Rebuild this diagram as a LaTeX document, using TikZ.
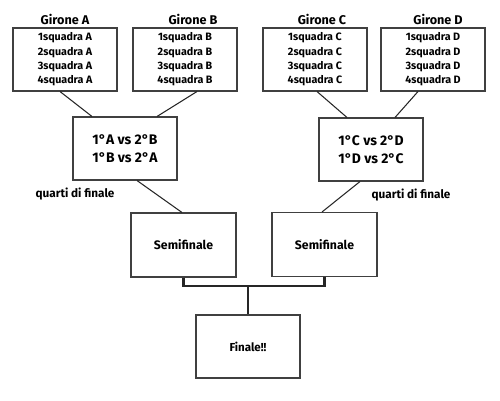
\documentclass[tikz,border=0pt]{standalone}
\usepackage{fontspec}
\setmainfont{Fira Sans}
\begin{document}
\begin{tikzpicture}[x=0.02cm, y=-0.02cm,
  box/.style={draw=black!75, line width=0.6pt, minimum width=2.08cm, minimum height=1.26cm, inner sep=0pt, align=center},
  team/.style={font=\bfseries\fontsize{6.1}{8.2}\selectfont},
  match/.style={font=\bfseries\fontsize{7.9}{10.2}\selectfont},
  title/.style={font=\bfseries\fontsize{7.2}{8}\selectfont},
  stage/.style={font=\bfseries\fontsize{7}{8}\selectfont},
  link/.style={draw=black!85, line width=0.6pt}]
 \useasboundingbox (0,0) rectangle (500,400);
 \node[title] (tA) at (65,19) {Girone A};
 \node[title] (tB) at (193,19) {Girone B};
 \node[title] (tC) at (322,19) {Girone C};
 \node[title] (tD) at (438,19) {Girone D};
 \node[box, team] (gA) at (65,59.5) {1squadra A\\2squadra A\\3squadra A\\4squadra A};
 \node[box, team] (gB) at (185,59.5) {1squadra B\\2squadra B\\3squadra B\\4squadra B};
 \node[box, team] (gC) at (315,59.5) {1squadra C\\2squadra C\\3squadra C\\4squadra C};
 \node[box, team] (gD) at (433,59.5) {1squadra D\\2squadra D\\3squadra D\\4squadra D};
 \node[box, match] (qAB) at (125,148.5) {1°A vs 2°B\\1°B vs 2°A};
 \node[box, match] (qCD) at (371,149.5) {1°C vs 2°D\\1°D vs 2°C};
 \node[stage, font=\bfseries\fontsize{6.7}{8}\selectfont] (lAB) at (75,194) {quarti di finale};
 \node[stage, font=\bfseries\fontsize{6.7}{8}\selectfont] (lCD) at (411,195) {quarti di finale};
 \node[box, stage, minimum width=2.1cm, minimum height=1.28cm] (sL) at (183.5,245) {Semifinale};
 \node[box, stage, minimum width=2.1cm, minimum height=1.28cm] (sR) at (324.5,244.5) {Semifinale};
 \node[box, stage, font=\bfseries\fontsize{6.6}{8}\selectfont] (fin) at (248,346.5) {Finale!!};
 \draw[link] ([xshift=-0.1cm]gA.south) -- ([xshift=-0.66cm]qAB.north);
 \draw[link] ([xshift=0.24cm]gB.south) -- ([xshift=0.64cm]qAB.north);
 \draw[link] ([xshift=0.04cm]gC.south) -- ([xshift=-0.48cm]qCD.north);
 \draw[link] ([xshift=-0.3cm]gD.south) -- ([xshift=0.48cm]qCD.north);
 \draw[link] ([xshift=0.24cm]qAB.south) -- ([xshift=-0.03cm]sL.north);
 \draw[link] ([xshift=-0.22cm]qCD.south) -- ([xshift=-0.05cm]sR.north);
 \coordinate (join) at (248,286);
 \draw[link, line width=1.2pt] (sL.south) |- (join) -| (sR.south);
 \draw[link, line width=1.2pt] (join) -- (fin.north);
\end{tikzpicture}
\end{document}
